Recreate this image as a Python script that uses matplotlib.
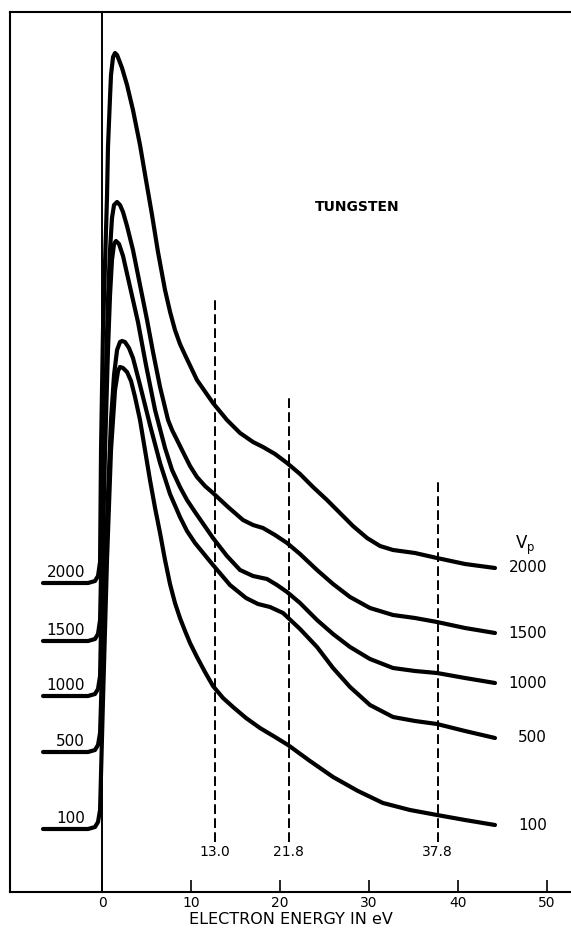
import matplotlib
matplotlib.use("Agg")
import matplotlib.pyplot as plt

# ---- data (electron energy in eV, relative intensity in arbitrary units) ----
vp_labels = ["2000", "1500", "1000", "500", "100"]

x_2000 = [-6.63, -1.57, -0.79, -0.45, -0.22, -0.11, 0.11, 0.34, 0.56, 0.67, 0.90, 1.01, 1.24, 1.46, 1.69,
          1.91, 2.25, 2.81, 3.48, 4.27, 4.94, 5.62, 6.29, 7.08, 7.65, 8.20, 8.76, 9.33, 10.67, 12.47, 14.04,
          15.51, 16.97, 18.09, 19.44, 20.79, 22.25, 23.71, 25.28, 26.74, 28.20, 29.78, 31.24, 32.70,
          35.17, 37.64, 40.79, 44.16]
y_2000 = [30.9, 30.9, 31.1, 31.6, 33.0, 44.2, 56.2, 62.9, 69.5, 74.5, 79.5, 81.7, 83.5, 83.9, 83.7,
          83.2, 82.4, 80.7, 78.2, 74.7, 71.2, 67.7, 64.0, 60.2, 58.0, 56.2, 54.8, 53.7, 51.2, 48.9, 47.2,
          45.9, 45.0, 44.5, 43.8, 42.9, 41.8, 40.5, 39.2, 37.9, 36.6, 35.4, 34.6, 34.2,
          33.9, 33.4, 32.8, 32.4]

x_1500 = [-6.63, -1.57, -0.79, -0.45, -0.22, 0.0, 0.22, 0.45, 0.67, 0.90, 1.12, 1.35, 1.69, 2.02, 2.36,
          2.81, 3.48, 4.27, 5.06, 5.73, 6.52, 7.42, 7.87, 8.43, 9.10, 9.89, 10.67, 11.57, 12.47, 14.16, 15.84,
          16.97, 18.09, 19.44, 20.79, 22.25, 24.16, 25.96, 27.87, 30.11, 32.70, 35.17, 37.64, 40.79, 44.16]
y_1500 = [25.1, 25.1, 25.3, 25.8, 27.2, 36.2, 45.2, 52.2, 59.2, 64.2, 67.4, 68.7, 69.0, 68.7, 68.0,
          66.6, 64.2, 60.7, 57.2, 54.0, 50.5, 47.2, 46.2, 45.2, 44.0, 42.6, 41.5, 40.6, 39.9, 38.5, 37.2,
          36.7, 36.4, 35.7, 34.9, 33.8, 32.2, 30.8, 29.5, 28.4, 27.7, 27.4, 27.0, 26.4, 25.9]

x_1000 = [-6.63, -1.57, -0.79, -0.45, -0.22, 0.0, 0.34, 0.67, 0.90, 1.12, 1.35, 1.57, 1.91, 2.36, 3.15,
          4.04, 4.94, 5.96, 7.08, 7.87, 8.76, 9.55, 10.45, 11.46, 12.47, 14.04, 15.51, 16.97, 18.54, 19.66, 20.79,
          22.25, 24.16, 25.96, 27.87, 30.11, 32.70, 35.17, 37.64, 40.79, 44.16]
y_1000 = [19.6, 19.6, 19.8, 20.3, 21.6, 31.2, 44.2, 54.2, 59.7, 63.2, 64.8, 65.1, 64.8, 63.6, 60.5,
          57.0, 52.7, 48.2, 44.4, 42.2, 40.5, 39.2, 38.0, 36.7, 35.4, 33.6, 32.2, 31.6, 31.3, 30.7, 30.0,
          28.9, 27.2, 25.8, 24.5, 23.3, 22.4, 22.1, 21.9, 21.4, 20.9]

x_500 = [-6.63, -1.57, -0.79, -0.45, -0.22, 0.11, 0.56, 1.01, 1.35, 1.69, 2.02, 2.25, 2.58, 3.03, 3.48,
         4.27, 5.39, 6.52, 7.64, 8.76, 9.55, 10.45, 11.46, 12.47, 14.38, 16.18, 17.53, 18.88, 20.34, 22.25, 24.16,
         25.96, 27.87, 30.11, 32.70, 35.17, 37.64, 40.79, 44.16]
y_500 = [14.0, 14.0, 14.2, 14.7, 15.9, 25.2, 37.2, 47.2, 51.7, 54.2, 55.0, 55.1, 55.0, 54.4, 53.4,
         50.7, 46.7, 42.9, 39.8, 37.5, 36.1, 34.9, 33.8, 32.7, 30.7, 29.4, 28.8, 28.5, 27.9, 26.3, 24.5,
         22.4, 20.5, 18.7, 17.5, 17.1, 16.8, 16.1, 15.4]

x_100 = [-6.63, -1.57, -0.79, -0.45, -0.22, 0.11, 0.56, 1.01, 1.46, 1.80, 2.02, 2.36, 2.81, 3.26, 3.71,
         4.27, 4.83, 5.39, 5.96, 6.52, 7.08, 7.64, 8.20, 8.76, 9.33, 9.89, 10.67, 11.57, 12.47, 13.60,
         14.72, 16.18, 17.75, 19.44, 20.90, 23.37, 25.96, 28.76, 31.57, 34.61, 37.64, 40.79, 44.16]
y_100 = [6.3, 6.3, 6.5, 7.0, 8.2, 19.2, 33.2, 44.2, 50.2, 52.1, 52.5, 52.4, 52.0, 51.1, 49.5,
         47.2, 44.2, 41.2, 38.4, 35.9, 33.2, 30.8, 28.9, 27.4, 26.1, 24.9, 23.5, 22.0, 20.6, 19.4,
         18.5, 17.4, 16.4, 15.5, 14.7, 13.1, 11.5, 10.1, 8.9, 8.2, 7.7, 7.2, 6.7]

curves_x = [x_2000, x_1500, x_1000, x_500, x_100]
curves_y = [y_2000, y_1500, y_1000, y_500, y_100]

marker_pos = [12.7, 21.0, 37.7]          # dashed reference lines (eV, as drawn)
marker_top = [59.5, 49.7, 41.4]          # top of each dashed line
marker_bottom = 5.0
marker_labels = ["13.0", "21.8", "37.8"]

x_ticks = [0, 10, 20, 30, 40, 50]
x_ticklabels = ["0", "10", "20", "30", "40", "50"]

# ---- figure ----
fig = plt.figure(figsize=(5.71, 9.32), dpi=100)
ax = fig.add_axes([10 / 571, 40 / 932, 561 / 571, 880 / 932])
ax.set_xlim(-10.34, 52.70)
ax.set_ylim(0, 88)

for xs, ys in zip(curves_x, curves_y):
    ax.plot(xs, ys, color="black", lw=3.0, solid_capstyle="round", solid_joinstyle="round", zorder=3)

# zero line
ax.axvline(0, color="black", lw=1.4, zorder=2)

# dashed reference lines and labels
for xp, top, lab in zip(marker_pos, marker_top, marker_labels):
    ax.plot([xp, xp], [marker_bottom, top], color="black", lw=1.4,
            linestyle=(0, (5, 2.2)), zorder=2)
    ax.text(xp, 4.0, lab, ha="center", va="center", fontsize=10)

# left labels (above the baselines)
for ys, lab in zip(curves_y, vp_labels):
    ax.text(-1.9, ys[0] + 1.05, lab, ha="right", va="center", fontsize=11)

# right labels (at the curve ends)
for ys, lab in zip(curves_y, vp_labels):
    ax.text(50.0, ys[-1], lab, ha="right", va="center", fontsize=11)

ax.text(47.5, 34.7, r"V$_\mathregular{p}$", ha="center", va="center", fontsize=12)
ax.text(28.65, 68.5, "TUNGSTEN", ha="center", va="center", fontsize=10, fontweight="bold")

# axes styling
ax.spines["right"].set_visible(False)
for s in ("left", "top", "bottom"):
    ax.spines[s].set_linewidth(1.5)
ax.set_yticks([])
ax.set_xticks(x_ticks)
ax.set_xticklabels(x_ticklabels, fontsize=10)
ax.tick_params(axis="x", direction="in", length=8.5, width=1.2, pad=3)
ax.set_xlabel("ELECTRON ENERGY IN eV", fontsize=11.5, labelpad=1)

fig.savefig("out.png", dpi=100)
